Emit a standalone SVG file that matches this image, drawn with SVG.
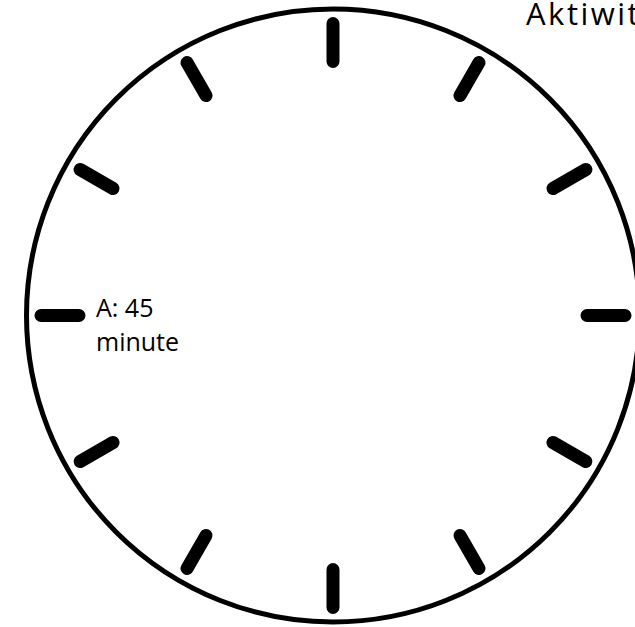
<svg xmlns="http://www.w3.org/2000/svg" width="635" height="627" viewBox="0 0 635 627">
  <style>
    .face { fill: #ffffff; stroke: #000000; stroke-width: 5; }
    .tick { stroke: #000000; stroke-width: 13; stroke-linecap: round; }
    .lbl { font-family: "Open Sans", "Noto Sans", "Liberation Sans", sans-serif; fill: #000000; }
  </style>
  <rect width="635" height="627" fill="#ffffff"/>
  <g id="clock">
    <circle class="face" cx="333" cy="315.5" r="306.5"/>
    <g id="ticks">
      <line class="tick" x1="333" y1="23.5" x2="333" y2="61.5" transform="rotate(0 333 315.5)"/>
      <line class="tick" x1="333" y1="23.5" x2="333" y2="61.5" transform="rotate(30 333 315.5)"/>
      <line class="tick" x1="333" y1="23.5" x2="333" y2="61.5" transform="rotate(60 333 315.5)"/>
      <line class="tick" x1="333" y1="23.5" x2="333" y2="61.5" transform="rotate(90 333 315.5)"/>
      <line class="tick" x1="333" y1="23.5" x2="333" y2="61.5" transform="rotate(120 333 315.5)"/>
      <line class="tick" x1="333" y1="23.5" x2="333" y2="61.5" transform="rotate(150 333 315.5)"/>
      <line class="tick" x1="333" y1="23.5" x2="333" y2="61.5" transform="rotate(180 333 315.5)"/>
      <line class="tick" x1="333" y1="23.5" x2="333" y2="61.5" transform="rotate(210 333 315.5)"/>
      <line class="tick" x1="333" y1="23.5" x2="333" y2="61.5" transform="rotate(240 333 315.5)"/>
      <line class="tick" x1="333" y1="23.5" x2="333" y2="61.5" transform="rotate(270 333 315.5)"/>
      <line class="tick" x1="333" y1="23.5" x2="333" y2="61.5" transform="rotate(300 333 315.5)"/>
      <line class="tick" x1="333" y1="23.5" x2="333" y2="61.5" transform="rotate(330 333 315.5)"/>
    </g>
  </g>
  <g id="label-a">
    <text class="lbl" x="96" y="317" font-size="25">A: 45</text>
    <text class="lbl" x="96" y="351" font-size="25">minute</text>
  </g>
  <g id="title">
    <text class="lbl" x="526" y="25" font-size="31" letter-spacing="2.5">Aktiwit</text>
  </g>
</svg>
